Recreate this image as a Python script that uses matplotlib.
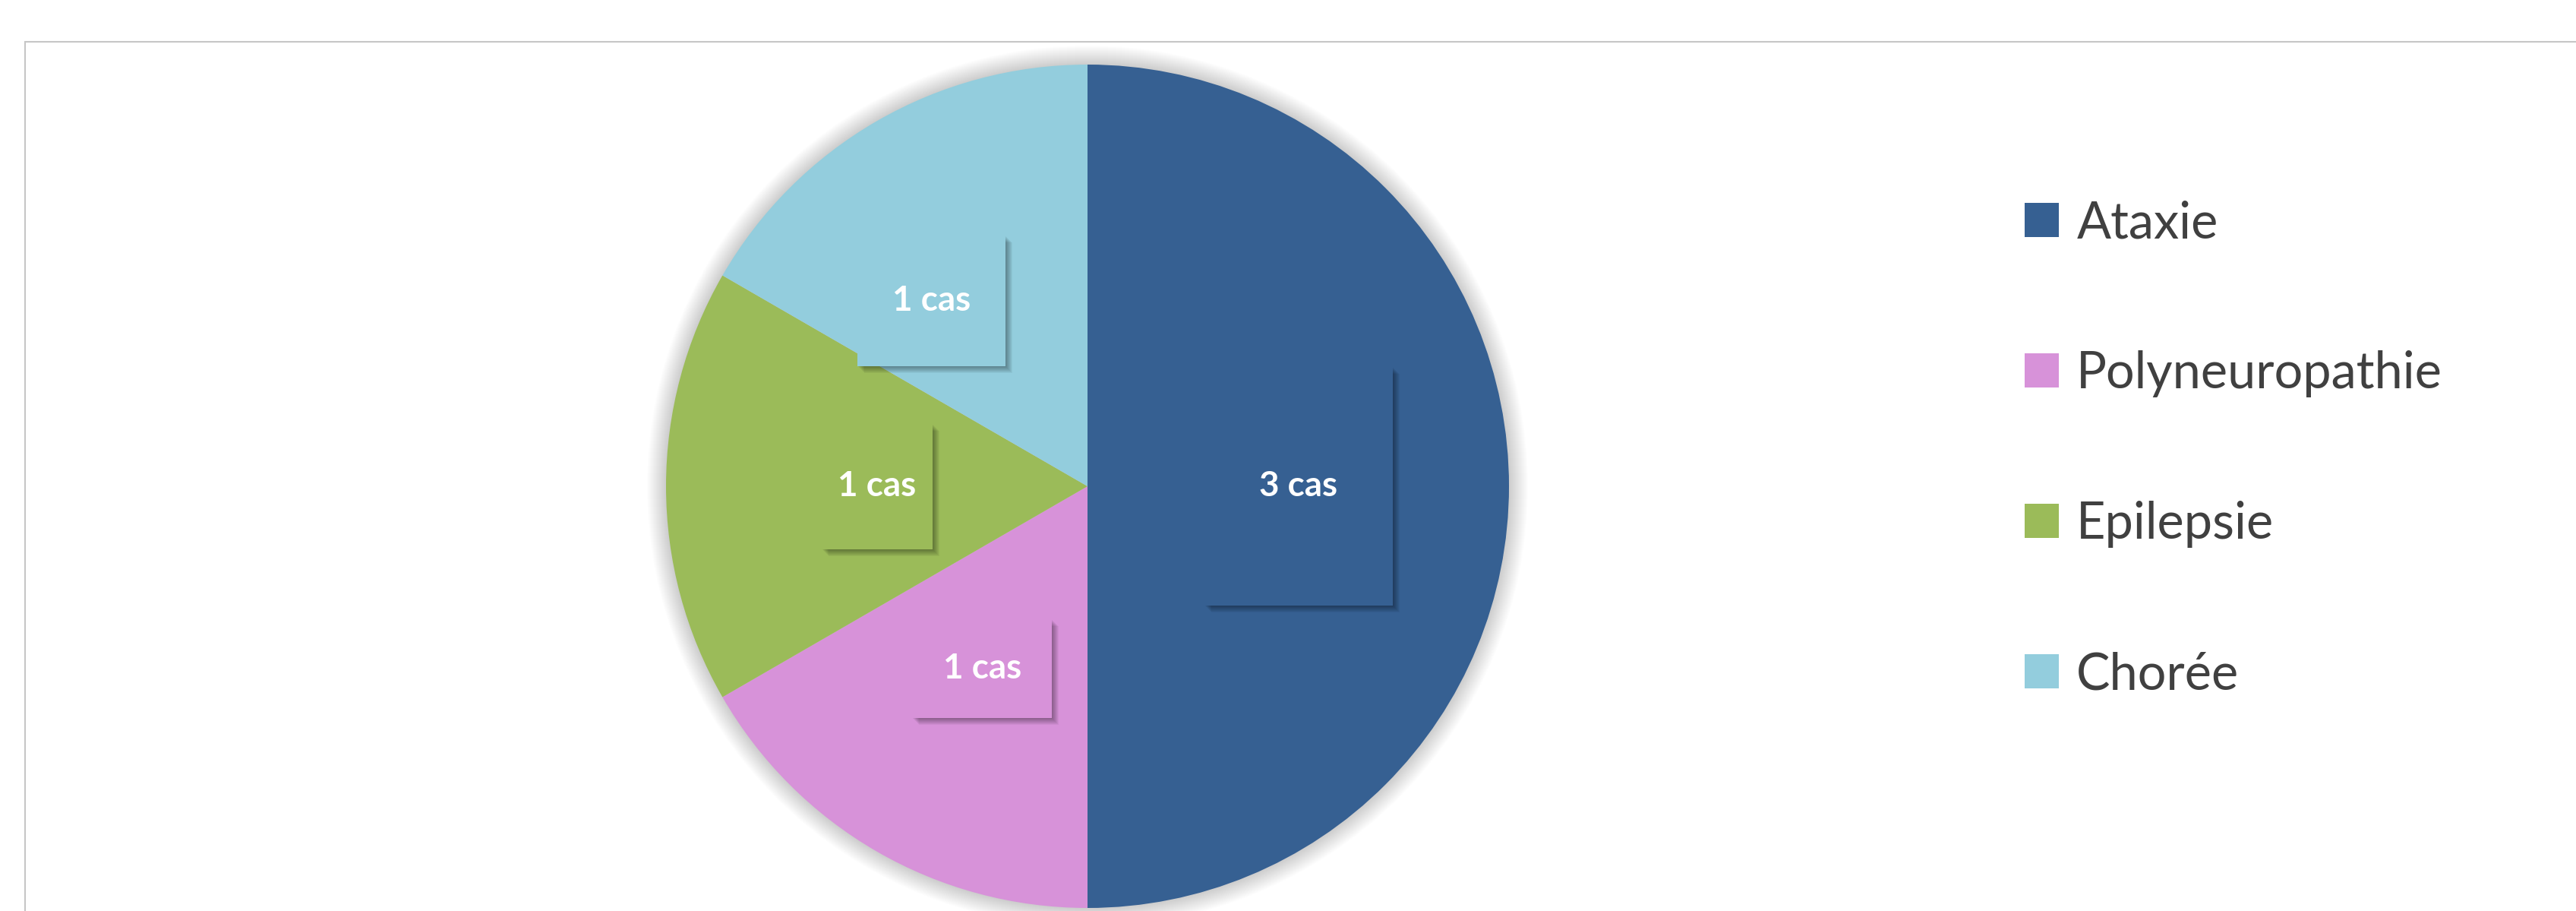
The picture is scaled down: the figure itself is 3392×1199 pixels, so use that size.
import numpy as np
import matplotlib
matplotlib.use('Agg')
import matplotlib.pyplot as plt
from matplotlib.patches import Rectangle, Circle

# data
categories = ['Ataxie', 'Polyneuropathie', 'Epilepsie', 'Chorée']
values = [3, 1, 1, 1]
colors = ['#366092', '#D792D9', '#9BBB59', '#93CDDD']

# label box sizes in px (w, h) and placement tweaks
box_sizes = [(248, 314), (184, 130), (146, 165), (195, 172)]
label_r = [0.50, 0.50, 0.50, 0.575]
label_shift = [0, 0, 0, 10]

W, H = 3392, 1199
plt.rcParams['font.family'] = ['Lato', 'DejaVu Sans']

fig = plt.figure(figsize=(W / 100, H / 100), dpi=100)
ax = fig.add_axes([0, 0, 1, 1])

cx, cy = 1432, H - 640
R = 555

wedges, _ = ax.pie(values, colors=colors, startangle=90, counterclock=False,
                   radius=R, center=(cx, cy), wedgeprops=dict(linewidth=0))

# soft glow round the pie
for k in range(1, 26):
    ax.add_patch(Circle((cx, cy), R + k, color='black', alpha=0.006, lw=0, zorder=0.5))

# chart frame (only top and left edges are inside the picture)
ax.add_patch(Rectangle((33, -20), W, H - 55 + 20, fill=False,
                       edgecolor='#c6c6c6', lw=1.5, zorder=0.2))

# data labels in shadowed boxes
for i, w in enumerate(wedges):
    mid = np.radians((w.theta1 + w.theta2) / 2 + label_shift[i])
    r = label_r[i] * R
    x = cx + r * np.cos(mid)
    y = cy + r * np.sin(mid)
    bw, bh = box_sizes[i]
    for s in range(1, 10):
        ax.add_patch(Rectangle((x - bw / 2 + s, y - bh / 2 - s), bw, bh,
                               color='black', alpha=0.045, lw=0, zorder=2))
    ax.add_patch(Rectangle((x - bw / 2, y - bh / 2), bw, bh,
                           color=colors[i], lw=0, zorder=3))
    ax.text(x, y, f'{values[i]} cas', color='white', fontsize=33, fontweight='bold',
            ha='center', va='center', zorder=4)

ax.legend(wedges, categories, loc='upper left',
          bbox_to_anchor=(2666 / W, 1 - 263 / H), frameon=False,
          fontsize=48, labelcolor='#404040',
          handlelength=0.675, handleheight=0.675, handletextpad=0.35,
          labelspacing=2.04, borderpad=0, borderaxespad=0)

ax.set_xlim(0, W)
ax.set_ylim(0, H)
ax.set_aspect('equal')
ax.axis('off')

fig.savefig('out.png', dpi=100, facecolor='white')
